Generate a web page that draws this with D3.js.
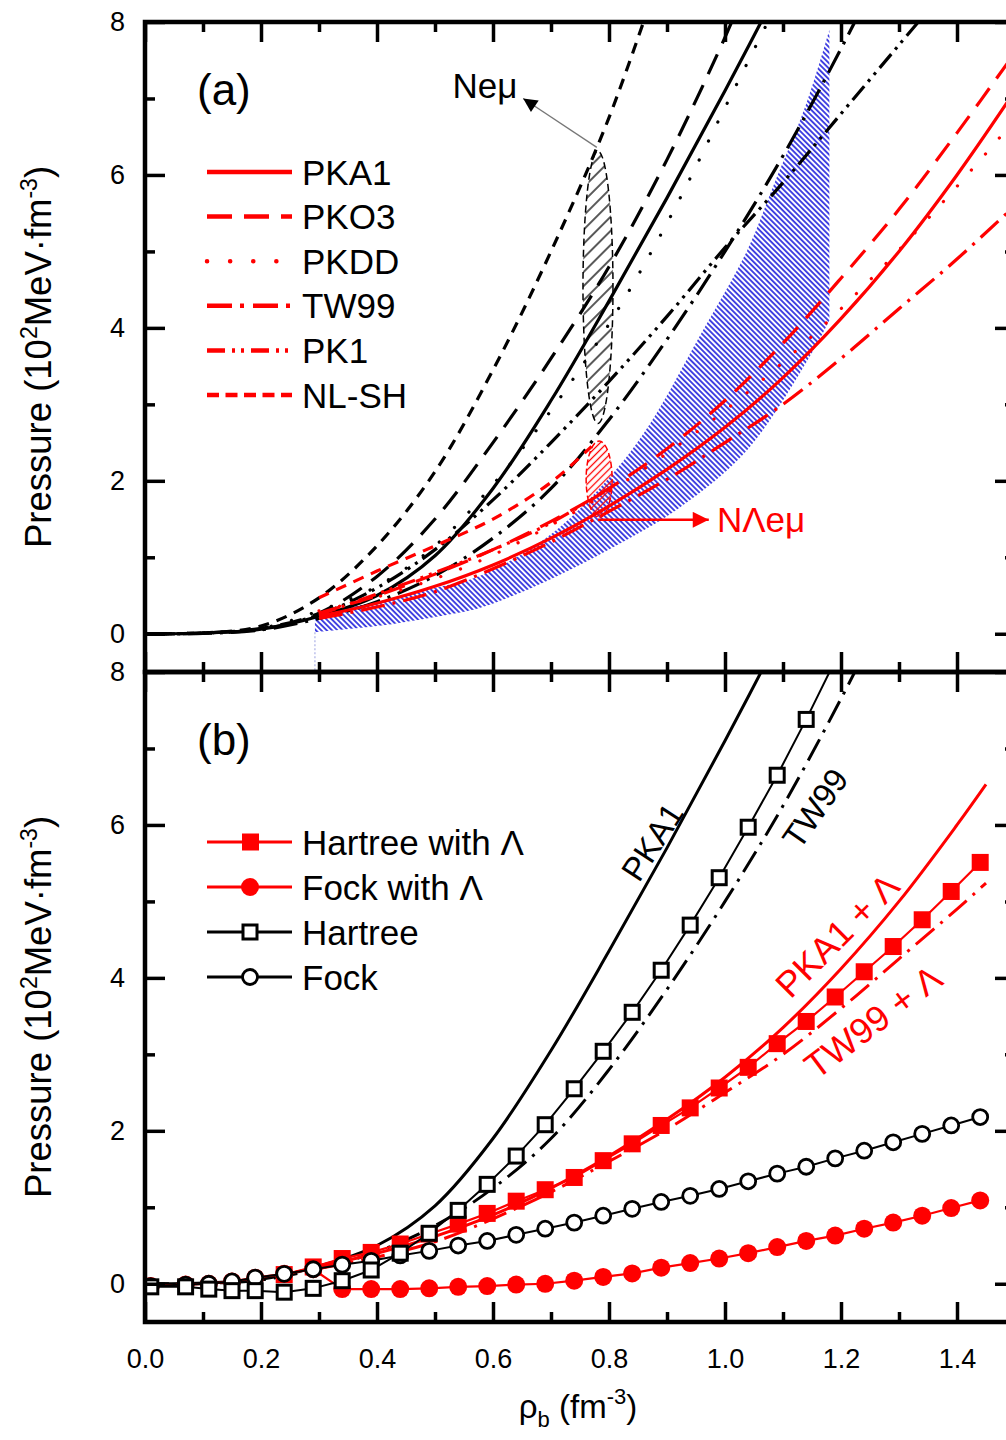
<!DOCTYPE html>
<html><head><meta charset="utf-8">
<script src="https://cdn.jsdelivr.net/npm/d3@7"></script>
<style>
body{margin:0;background:#fff}
text{font-family:"Liberation Sans",Arial,sans-serif;fill:#000}
</style></head>
<body><svg id="c" width="1006" height="1440"></svg>
<script>
// ---------------- DATA ----------------
// Panel (a): N e mu (black) curves
const pka1Rho = [0,0.1,0.2,0.3,0.4,0.5,0.6,0.7,0.8,0.9,1.0,1.1];
const pka1P   = [0,0.01,0.06,0.23,0.5,1.02,1.9,3.05,4.35,5.7,7.1,8.55];
const pko3Rho = [0,0.1,0.2,0.3,0.4,0.5,0.6,0.7,0.8,0.9,1.0,1.05];
const pko3P   = [0,0.01,0.07,0.27,0.75,1.5,2.5,3.6,4.8,6.2,7.8,8.7];
const pkddRho = [0,0.1,0.2,0.3,0.4,0.5,0.6,0.7,0.8,0.9,1.0,1.1];
const pkddP   = [0,0.01,0.07,0.3,0.62,1.15,1.95,2.92,4.05,5.37,6.88,8.4];
const tw99Rho = [0,0.1,0.2,0.3,0.4,0.5,0.6,0.7,0.8,0.9,1.0,1.1,1.2,1.3];
const tw99P   = [0,0.005,0.05,0.2,0.42,0.76,1.25,1.9,2.8,3.85,5.0,6.25,7.65,9.15];
const pk1Rho  = [0,0.1,0.2,0.3,0.4,0.5,0.6,0.7,0.8,0.9,1.0,1.1,1.2,1.3,1.4];
const pk1P    = [0,0.01,0.06,0.25,0.6,1.1,1.75,2.5,3.3,4.15,5.05,5.9,6.8,7.7,8.6];
const nlshRho = [0,0.1,0.2,0.3,0.4,0.5,0.6,0.7,0.8,0.9];
const nlshP   = [0,0.01,0.1,0.47,1.15,2.12,3.45,5.0,6.75,8.9];

// Panel (a): N Lambda e mu (red) curves
const lamRho   = [0.3,0.4,0.5,0.6,0.7,0.8,0.9,1.0,1.1,1.2,1.3,1.4,1.5];
const pka1LP   = [0.23,0.4,0.62,0.9,1.25,1.67,2.15,2.7,3.35,4.12,5.0,6.0,7.1];
const pko3LP   = [0.27,0.5,0.78,1.1,1.47,1.9,2.42,3.05,3.8,4.65,5.55,6.55,7.6];
const pkddLP   = [0.3,0.48,0.72,1.03,1.42,1.86,2.36,2.92,3.55,4.25,5.02,5.85,6.72];
const tw99LP   = [0.2,0.35,0.55,0.85,1.2,1.6,2.02,2.5,3.0,3.6,4.25,4.9,5.6];
const pk1LRho  = [0.3,0.4,0.5,0.6,0.7,0.79];
const pk1LP    = [0.25,0.52,0.8,1.1,1.45,1.85];
const nlshLRho = [0.3,0.4,0.5,0.6,0.7,0.77];
const nlshLP   = [0.47,0.82,1.15,1.5,1.98,2.45];

// Panel (b): the same hyperon curves, computed up to 1.45 fm^-3
const lamRhoB  = [0.3,0.4,0.5,0.6,0.7,0.8,0.9,1.0,1.1,1.2,1.3,1.4,1.45];
const pka1LPB  = [0.23,0.4,0.62,0.9,1.25,1.67,2.15,2.7,3.35,4.12,5.0,6.0,6.53];
const tw99LPB  = [0.2,0.35,0.55,0.85,1.2,1.6,2.02,2.5,3.0,3.6,4.25,4.9,5.24];

// Panel (a): hatched constraint band
const bandRho   = [0.293,0.4,0.5,0.578,0.7,0.807,0.871,0.957,1.038,1.083,1.141,1.18];
const bandUpper = [0.26,0.42,0.6,0.76,1.3,2.1,2.75,3.9,5.01,5.85,6.95,7.9];
const bandLowRho= [0.293,0.4,0.5,0.578,0.693,0.807,0.922,1.038,1.152,1.18];
const bandLower = [0.02,0.1,0.22,0.34,0.69,1.13,1.65,2.4,3.7,4.1];

// Panel (a): pressure-range ellipses [rho, P centre, P half-range]
const ellNemu   = [0.781, 4.53, 1.78];
const ellNLemu  = [0.783, 2.02, 0.5];

// Panel (a) legend
const modelNames = ["PKA1","PKO3","PKDD","TW99","PK1","NL-SH"];

// Panel (b): Hartree / Fock contributions
const hfRho = [0.01,0.07,0.11,0.15,0.19,0.24,0.29,0.34,0.39,0.44,0.49,0.54,0.59,0.64,0.69,
               0.74,0.79,0.84,0.89,0.94,0.99,1.04,1.09,1.14,1.19,1.24,1.29,1.34,1.39,1.44];
const fockP = [-0.03,-0.01,0.0,0.03,0.08,0.13,0.19,0.25,0.30,0.37,0.43,0.50,0.56,0.64,0.72,
               0.80,0.89,0.98,1.07,1.15,1.24,1.34,1.44,1.53,1.64,1.74,1.85,1.96,2.07,2.18];
const fockLP = [-0.03,-0.01,0.0,0.03,0.08,0.13,0.19,-0.07,-0.07,-0.07,-0.06,-0.04,-0.03,-0.01,0.0,
               0.04,0.09,0.135,0.21,0.27,0.33,0.40,0.48,0.56,0.63,0.72,0.80,0.89,0.99,1.09];
const hartRho = [0.01,0.07,0.11,0.15,0.19,0.24,0.29,0.34,0.39,0.44,0.49,0.54,0.59,0.64,0.69,
               0.74,0.79,0.84,0.89,0.94,0.99,1.04,1.09,1.14,1.19];
const hartP = [-0.04,-0.04,-0.07,-0.09,-0.09,-0.11,-0.06,0.04,0.18,0.40,0.66,0.96,1.30,1.67,2.08,
               2.55,3.04,3.55,4.10,4.69,5.31,5.97,6.65,7.38,8.15];
const hartLRho = [0.24,0.29,0.34,0.39,0.44,0.49,0.54,0.59,0.64,0.69,0.74,0.79,0.84,0.89,0.94,
               0.99,1.04,1.09,1.14,1.19,1.24,1.29,1.34,1.39,1.44];
const hartLP = [0.12,0.22,0.33,0.41,0.52,0.65,0.78,0.92,1.08,1.23,1.39,1.61,1.83,2.07,2.30,
               2.56,2.83,3.14,3.43,3.75,4.08,4.41,4.76,5.13,5.51];
const legendB = ["Hartree with \u039B","Fock with \u039B","Hartree","Fock"];

// Axis ticks
const xMajor = [0,0.2,0.4,0.6,0.8,1.0,1.2,1.4];
const xMinor = [0.1,0.3,0.5,0.7,0.9,1.1,1.3,1.5];
const yMajor = [0,2,4,6,8];
const yMinor = [1,3,5,7];

// ---------------- DRAW ----------------
const svg = d3.select("#c");
const x  = d3.scaleLinear().domain([0,1.5]).range([145,1015]);
const yA = d3.scaleLinear().domain([-0.5,8]).range([672,22]);
const yB = d3.scaleLinear().domain([-0.5,8]).range([1322,672]);
const RED = "#ff0000";

const defs = svg.append("defs");
function clip(id,y){
  defs.append("clipPath").attr("id",id).append("rect")
    .attr("x",x(0)).attr("y",y.range()[1]).attr("width",x(1.5)-x(0)).attr("height",y.range()[0]-y.range()[1]);
}
clip("clipA",yA); clip("clipB",yB);
function hatch(id,color,size,sw,rot){
  const p = defs.append("pattern").attr("id",id).attr("patternUnits","userSpaceOnUse")
    .attr("width",size).attr("height",size).attr("patternTransform",`rotate(${rot})`);
  p.append("line").attr("x1",size/2).attr("y1",0).attr("x2",size/2).attr("y2",size)
    .attr("stroke",color).attr("stroke-width",sw);
}
hatch("hBlue","#1c1cdc",3.8,1.6,-45);
hatch("hBlack","#000",10,1.3,45);
hatch("hRed",RED,5,1.3,45);
defs.append("marker").attr("id","arrBlack").attr("viewBox","0 0 10 10").attr("refX",10).attr("refY",5)
  .attr("markerWidth",22).attr("markerHeight",14).attr("markerUnits","userSpaceOnUse").attr("orient","auto")
  .append("path").attr("d","M0,0L10,5L0,10Z").attr("fill","#000");
defs.append("marker").attr("id","arrRed").attr("viewBox","0 0 10 10").attr("refX",10).attr("refY",5)
  .attr("markerWidth",24).attr("markerHeight",16).attr("markerUnits","userSpaceOnUse").attr("orient","auto")
  .append("path").attr("d","M0,0L10,5L0,10Z").attr("fill",RED);

const lineGen = y => d3.line().x(d=>x(d[0])).y(d=>y(d[1])).curve(d3.curveCatmullRom.alpha(0.5));

const styles = {
  "PKA1": {dash:null, cap:"butt"},
  "PKO3": {dash:"22,12", cap:"butt"},
  "PKDD": {dash:"0.1,21", cap:"round"},
  "TW99": {dash:"24,8,3,8", cap:"butt"},
  "PK1":  {dash:"18,6,3,6,3,6", cap:"butt"},
  "NL-SH":{dash:"11,8", cap:"butt"}
};
const legendDash = {"PKA1":null,"PKO3":"25,12","PKDD":"0.1,23","TW99":"25,8,4,9","PK1":"18,7,3,6,3,7","NL-SH":"12,6.5"};

// ---------- Panel (a) ----------
const gA = svg.append("g").attr("clip-path","url(#clipA)");
const upperPath = lineGen(yA)(d3.zip(bandRho,bandUpper));
const lowerPath = lineGen(yA)(d3.zip(bandLowRho,bandLower).reverse());
gA.append("path").attr("d", upperPath + "L" + lowerPath.slice(1) + "Z")
  .attr("fill","url(#hBlue)").attr("stroke","none");
gA.append("line").attr("x1",x(bandRho[0])).attr("x2",x(bandRho[0]))
  .attr("y1",yA(bandLower[0])).attr("y2",yA(-0.5))
  .attr("stroke","#9aa0e0").attr("stroke-width",1).attr("stroke-dasharray","2,2");
gA.append("ellipse").attr("cx",x(ellNemu[0])).attr("cy",yA(ellNemu[1]))
  .attr("rx",15).attr("ry",yA(0)-yA(ellNemu[2]))
  .attr("fill","url(#hBlack)").attr("stroke","#000").attr("stroke-width",1.5).attr("stroke-dasharray","7,4");
gA.append("ellipse").attr("cx",x(ellNLemu[0])).attr("cy",yA(ellNLemu[1]))
  .attr("rx",13).attr("ry",yA(0)-yA(ellNLemu[2]))
  .attr("fill","url(#hRed)").attr("stroke",RED).attr("stroke-width",1.5).attr("stroke-dasharray","6,3");

const blackA = [
  ["PKA1",pka1Rho,pka1P],["PKO3",pko3Rho,pko3P],["PKDD",pkddRho,pkddP],
  ["TW99",tw99Rho,tw99P],["PK1",pk1Rho,pk1P],["NL-SH",nlshRho,nlshP]];
const redA = [
  ["PKA1",lamRho,pka1LP],["PKO3",lamRho,pko3LP],["PKDD",lamRho,pkddLP],
  ["TW99",lamRho,tw99LP],["PK1",pk1LRho,pk1LP],["NL-SH",nlshLRho,nlshLP]];
function drawCurve(g,y,name,rho,P,color,w){
  const s = styles[name];
  g.append("path").attr("d",lineGen(y)(d3.zip(rho,P)))
    .attr("fill","none").attr("stroke",color).attr("stroke-width",w)
    .attr("stroke-dasharray",s.dash).attr("stroke-linecap",s.cap);
}
blackA.forEach(c=>drawCurve(gA,yA,c[0],c[1],c[2],"#000",3.2));
redA.forEach(c=>drawCurve(gA,yA,c[0],c[1],c[2],RED,3.2));

svg.append("line").attr("x1",x(0.779)).attr("y1",yA(6.36)).attr("x2",x(0.652)).attr("y2",yA(7.0))
  .attr("stroke","#777").attr("stroke-width",1.3).attr("marker-end","url(#arrBlack)");
svg.append("text").attr("x",x(0.642)).attr("y",yA(7.0)).attr("text-anchor","end")
  .attr("font-size",35).text("Ne\u03BC");
svg.append("line").attr("x1",x(0.781)).attr("y1",yA(1.49)).attr("x2",x(0.972)).attr("y2",yA(1.49))
  .attr("stroke",RED).attr("stroke-width",2.5).attr("marker-end","url(#arrRed)");
svg.append("text").attr("x",x(0.986)).attr("y",yA(1.49)).attr("dy","0.36em")
  .attr("font-size",35).style("fill",RED).text("N\u039Be\u03BC");

modelNames.forEach((n,i)=>{
  const yy = 172 + i*44.6;
  svg.append("line").attr("x1",207).attr("x2",292).attr("y1",yy).attr("y2",yy)
    .attr("stroke",RED).attr("stroke-width",4.5)
    .attr("stroke-dasharray", legendDash[n]).attr("stroke-linecap",styles[n].cap);
  svg.append("text").attr("x",302).attr("y",yy).attr("dy","0.36em").attr("font-size",35).text(n);
});
svg.append("text").attr("x",197).attr("y",105).attr("font-size",44).text("(a)");

// ---------- Panel (b) ----------
const gB = svg.append("g").attr("clip-path","url(#clipB)");
drawCurve(gB,yB,"PKA1",pka1Rho,pka1P,"#000",3);
drawCurve(gB,yB,"TW99",tw99Rho,tw99P,"#000",3);
drawCurve(gB,yB,"PKA1",lamRhoB,pka1LPB,RED,3);
drawCurve(gB,yB,"TW99",lamRhoB,tw99LPB,RED,3);

function series(g,rho,P,color,w){
  g.append("path").attr("d",d3.line().x(d=>x(d[0])).y(d=>yB(d[1]))(d3.zip(rho,P)))
   .attr("fill","none").attr("stroke",color).attr("stroke-width",w);
}
series(gB,hfRho,fockLP,RED,2.2);
gB.selectAll(".fl").data(d3.zip(hfRho,fockLP)).join("circle")
  .attr("cx",d=>x(d[0])).attr("cy",d=>yB(d[1])).attr("r",9).attr("fill",RED);
series(gB,hartLRho,hartLP,RED,2.2);
gB.selectAll(".hl").data(d3.zip(hartLRho,hartLP)).join("rect")
  .attr("x",d=>x(d[0])-8.5).attr("y",d=>yB(d[1])-8.5).attr("width",17).attr("height",17).attr("fill",RED);
series(gB,hfRho,fockP,"#000",2);
gB.selectAll(".fb").data(d3.zip(hfRho,fockP)).join("circle")
  .attr("cx",d=>x(d[0])).attr("cy",d=>yB(d[1])).attr("r",7.5)
  .attr("fill","#fff").attr("stroke","#000").attr("stroke-width",2.8);
series(gB,hartRho,hartP,"#000",2);
gB.selectAll(".hb").data(d3.zip(hartRho,hartP)).join("rect")
  .attr("x",d=>x(d[0])-7).attr("y",d=>yB(d[1])-7).attr("width",14).attr("height",14)
  .attr("fill","#fff").attr("stroke","#000").attr("stroke-width",3);

function rlabel(t,rho,P,ang,color,fs){
  svg.append("text").attr("transform",`translate(${x(rho)},${yB(P)}) rotate(${ang})`)
    .attr("text-anchor","middle").attr("dy","0.36em").attr("font-size",fs)
    .style("fill",color).text(t);
}
rlabel("PKA1",0.874,5.78,-57,"#000",33);
rlabel("TW99",1.155,6.22,-55,"#000",33);
rlabel("PKA1 + \u039B",1.193,4.56,-45,RED,36);
rlabel("TW99 + \u039B",1.255,3.43,-37,RED,36);

legendB.forEach((n,i)=>{
  const yy = 842 + i*45;
  const col = i<2 ? RED : "#000";
  svg.append("line").attr("x1",207).attr("x2",292).attr("y1",yy).attr("y2",yy)
    .attr("stroke",col).attr("stroke-width",3);
  if(i===0) svg.append("rect").attr("x",242).attr("y",yy-8.5).attr("width",17).attr("height",17).attr("fill",RED);
  if(i===1) svg.append("circle").attr("cx",250).attr("cy",yy).attr("r",9).attr("fill",RED);
  if(i===2) svg.append("rect").attr("x",243).attr("y",yy-7).attr("width",14).attr("height",14)
     .attr("fill","#fff").attr("stroke","#000").attr("stroke-width",3);
  if(i===3) svg.append("circle").attr("cx",250).attr("cy",yy).attr("r",7.5)
     .attr("fill","#fff").attr("stroke","#000").attr("stroke-width",2.8);
  svg.append("text").attr("x",302).attr("y",yy).attr("dy","0.36em").attr("font-size",35).text(n);
});
svg.append("text").attr("x",197).attr("y",755).attr("font-size",44).text("(b)");

// ---------- Axes ----------
function styleAxis(g){
  g.select(".domain").remove();
  g.selectAll(".tick line").attr("stroke","#000").attr("stroke-width",3.5);
  g.selectAll("text").attr("font-size",27).attr("font-family","'Liberation Sans',Arial,sans-serif").attr("fill","#000");
}
function axesFor(y, xLabels){
  const top = y.range()[1], bot = y.range()[0];
  svg.append("g").attr("transform",`translate(${x(0)},0)`)
    .call(d3.axisLeft(y).tickValues(yMajor).tickSize(-20).tickPadding(20).tickFormat(d3.format("d"))).call(styleAxis);
  svg.append("g").attr("transform",`translate(${x(0)},0)`)
    .call(d3.axisLeft(y).tickValues(yMinor).tickSize(-10).tickFormat("")).call(styleAxis);
  svg.append("g").attr("transform",`translate(${x(1.5)},0)`)
    .call(d3.axisRight(y).tickValues(yMajor).tickSize(-20).tickFormat("")).call(styleAxis);
  svg.append("g").attr("transform",`translate(${x(1.5)},0)`)
    .call(d3.axisRight(y).tickValues(yMinor).tickSize(-10).tickFormat("")).call(styleAxis);
  svg.append("g").attr("transform",`translate(0,${top})`)
    .call(d3.axisTop(x).tickValues(xMajor).tickSize(-20).tickFormat("")).call(styleAxis);
  svg.append("g").attr("transform",`translate(0,${top})`)
    .call(d3.axisTop(x).tickValues(xMinor).tickSize(-10).tickFormat("")).call(styleAxis);
  svg.append("g").attr("transform",`translate(0,${bot})`)
    .call(d3.axisBottom(x).tickValues(xMajor).tickSize(-20).tickPadding(27)
      .tickFormat(xLabels ? d3.format(".1f") : "")).call(styleAxis);
  svg.append("g").attr("transform",`translate(0,${bot})`)
    .call(d3.axisBottom(x).tickValues(xMinor).tickSize(-10).tickFormat("")).call(styleAxis);
  svg.append("rect").attr("x",x(0)).attr("y",top).attr("width",x(1.5)-x(0)).attr("height",bot-top)
    .attr("fill","none").attr("stroke","#000").attr("stroke-width",4.5);
}
axesFor(yA,false);
axesFor(yB,true);

function yTitle(cy){
  const t = svg.append("text").attr("transform",`translate(51,${cy}) rotate(-90)`)
    .attr("text-anchor","middle").attr("font-size",36.5);
  t.append("tspan").text("Pressure (10");
  t.append("tspan").attr("dy",-14).attr("font-size",23).text("2");
  t.append("tspan").attr("dy",14).text("MeV\u00B7fm");
  t.append("tspan").attr("dy",-14).attr("font-size",23).text("-3");
  t.append("tspan").attr("dy",14).text(")");
}
yTitle(357); yTitle(1007);
const xt = svg.append("text").attr("x",578).attr("y",1418).attr("text-anchor","middle").attr("font-size",33);
xt.append("tspan").text("\u03C1");
xt.append("tspan").attr("dy",9).attr("font-size",22).text("b");
xt.append("tspan").attr("dy",-9).text(" (fm");
xt.append("tspan").attr("dy",-14).attr("font-size",22).text("-3");
xt.append("tspan").attr("dy",14).text(")");
</script></body></html>
